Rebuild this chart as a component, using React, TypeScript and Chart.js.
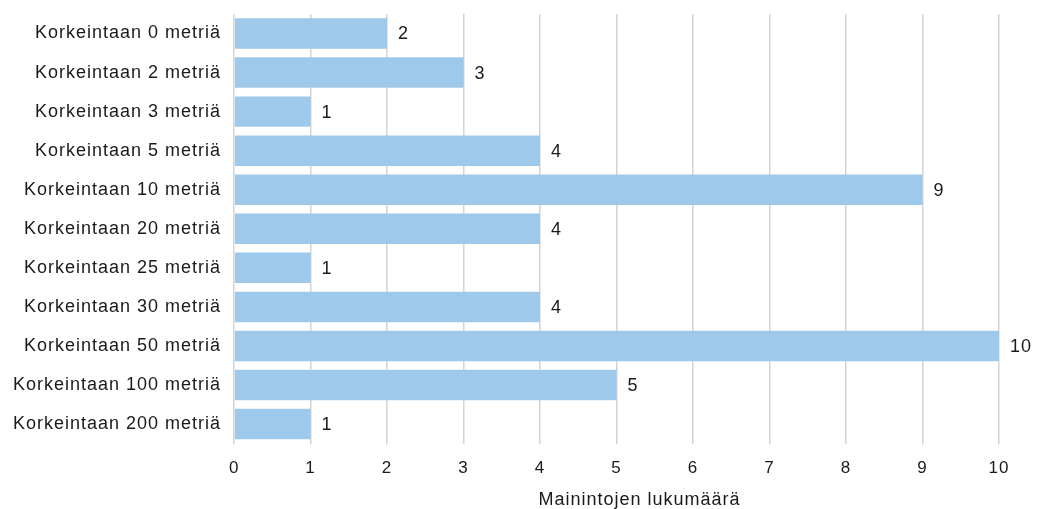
import React, { useEffect, useRef } from "react";
import { Chart, registerables } from "chart.js";

Chart.register(...registerables);

const categories = [
  "Korkeintaan 0 metriä",
  "Korkeintaan 2 metriä",
  "Korkeintaan 3 metriä",
  "Korkeintaan 5 metriä",
  "Korkeintaan 10 metriä",
  "Korkeintaan 20 metriä",
  "Korkeintaan 25 metriä",
  "Korkeintaan 30 metriä",
  "Korkeintaan 50 metriä",
  "Korkeintaan 100 metriä",
  "Korkeintaan 200 metriä",
];
const mentions = [2, 3, 1, 4, 9, 4, 1, 4, 10, 5, 1];
const axisTitle = "Mainintojen lukumäärä";

const FONT = "'Liberation Sans', Arial, sans-serif";
const TEXT = "#1a1a1a";
const LETTER_SPACING = "1px";

// Slightly looser letter spacing for all canvas text (re-applied, since a canvas resize resets it)
const spacing = {
  id: "spacing",
  beforeLayout(chart: any) {
    chart.ctx.letterSpacing = LETTER_SPACING;
  },
  beforeDraw(chart: any) {
    chart.ctx.letterSpacing = LETTER_SPACING;
  },
};

// Writes each bar's count just right of its end, plus the value-axis title below the ticks
const valueLabels = {
  id: "valueLabels",
  afterDatasetsDraw(chart: any) {
    const { ctx } = chart;
    const meta = chart.getDatasetMeta(0);
    ctx.save();
    ctx.letterSpacing = LETTER_SPACING;
    ctx.font = `18px ${FONT}`;
    ctx.fillStyle = TEXT;
    ctx.textAlign = "left";
    ctx.textBaseline = "middle";
    meta.data.forEach((bar: any, i: number) => {
      ctx.fillText(String(mentions[i]), bar.x + 11, bar.y + 1);
    });
    ctx.textAlign = "center";
    const xs = chart.scales.x;
    const titleX = xs.getPixelForValue(5.3);
    ctx.fillText(axisTitle, titleX, chart.chartArea.bottom + 56);
    ctx.restore();
  },
};

export default function App() {
  const ref = useRef<HTMLCanvasElement>(null);
  useEffect(() => {
    if (!ref.current) return;
    const chart = new Chart(ref.current, {
      type: "bar",
      data: {
        labels: categories,
        datasets: [
          {
            data: mentions,
            backgroundColor: "#9fc9eb",
            borderWidth: 0,
            barPercentage: 0.78,
            categoryPercentage: 1,
          },
        ],
      },
      options: {
        indexAxis: "y",
        animation: false,
        responsive: false,
        layout: { padding: { top: 14, right: 42, bottom: 15, left: 0 } },
        plugins: {
          legend: { display: false },
          tooltip: { enabled: false },
        },
        scales: {
          x: {
            min: 0,
            max: 10,
            ticks: {
              stepSize: 1,
              padding: 15,
              color: TEXT,
              font: { family: FONT, size: 17 },
            },
            grid: { color: "#d4d4d4", lineWidth: 1.5, drawTicks: false },
            border: { display: false },
          },
          y: {
            afterFit(scale: any) {
              scale.paddingTop = 0;
              scale.paddingBottom = 0;
            },
            ticks: {
              padding: 13,
              color: TEXT,
              font: { family: FONT, size: 18 },
            },
            grid: { display: false, drawTicks: false },
            border: { display: false },
          },
        },
      },
      plugins: [spacing, valueLabels],
    });
    return () => chart.destroy();
  }, []);
  return (
    <div style={{ position: "fixed", left: 0, top: 0, width: 1041, height: 509, background: "#fff" }}>
      <canvas ref={ref} width={1041} height={509} />
    </div>
  );
}
